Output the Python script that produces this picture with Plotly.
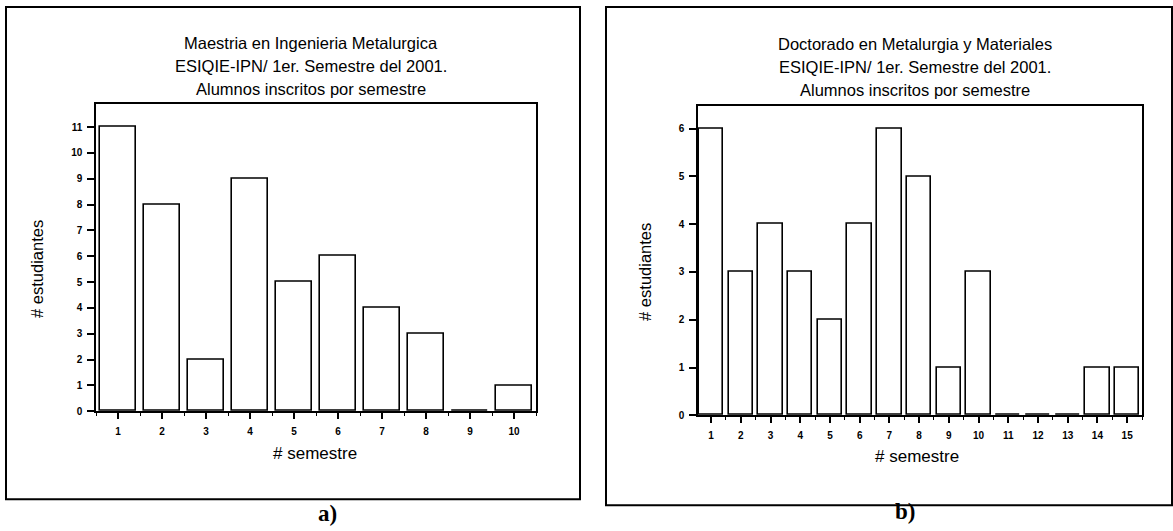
import plotly.graph_objects as go

# ---- data ----
sem_maestria = [1, 2, 3, 4, 5, 6, 7, 8, 9, 10]
alumnos_maestria = [11, 8, 2, 9, 5, 6, 4, 3, 0, 1]
sem_doctorado = [1, 2, 3, 4, 5, 6, 7, 8, 9, 10, 11, 12, 13, 14, 15]
alumnos_doctorado = [6, 3, 4, 3, 2, 4, 6, 5, 1, 3, 0, 0, 0, 1, 1]

titulo_a = ["Maestria en Ingenieria Metalurgica",
            "ESIQIE-IPN/ 1er. Semestre del 2001.",
            "Alumnos inscritos por semestre"]
titulo_b = ["Doctorado en Metalurgia y Materiales",
            "ESIQIE-IPN/ 1er. Semestre del 2001.",
            "Alumnos inscritos por semestre"]
ytitle = "# estudiantes"
xtitle = "# semestre"
yticks_a = list(range(0, 12))
yticks_b = list(range(0, 7))

W, H = 1173, 531
FONT = "Liberation Sans, Arial, sans-serif"


def px(x):
    return x / W


def py(y):
    return 1 - y / H


fig = go.Figure()
fig.add_trace(go.Bar(x=sem_maestria, y=alumnos_maestria, width=0.8,
                     marker=dict(color="white", line=dict(color="black", width=1.6)),
                     xaxis="x", yaxis="y", showlegend=False))
fig.add_trace(go.Bar(x=sem_doctorado, y=alumnos_doctorado, width=0.82,
                     marker=dict(color="white", line=dict(color="black", width=1.6)),
                     xaxis="x2", yaxis="y2", showlegend=False))

tickfont = dict(family=FONT, size=10, color="black")


def xaxis(domain, rng, vals, anchor):
    return dict(domain=domain, range=rng, anchor=anchor,
                tickmode="array", tickvals=vals,
                ticktext=[f"<b>{v}</b>" for v in vals],
                ticks="outside", ticklen=6, tickwidth=1.5, tickcolor="black",
                ticklabelstandoff=4,
                minor=dict(tick0=0.5, dtick=1, ticks="outside", ticklen=3,
                           tickwidth=1.2, tickcolor="black"),
                showline=True, linecolor="black", linewidth=1.5, mirror=True,
                showgrid=False, zeroline=False, tickfont=tickfont, fixedrange=True)


def yaxis(domain, rng, vals, anchor):
    return dict(domain=domain, range=rng, anchor=anchor,
                tickmode="array", tickvals=vals,
                ticktext=[f"<b>{v}</b>" for v in vals],
                ticks="outside", ticklen=7, tickwidth=1.5, tickcolor="black",
                ticklabelstandoff=3,
                showline=True, linecolor="black", linewidth=1.5, mirror=True,
                showgrid=False, zeroline=False, tickfont=tickfont, fixedrange=True)


fig.update_layout(
    width=W, height=H, margin=dict(l=0, r=0, t=0, b=0),
    paper_bgcolor="white", plot_bgcolor="white",
    bargap=0,
    xaxis=xaxis([px(96), px(536)], [0.5, 10.5], sem_maestria, "y"),
    yaxis=yaxis([py(416), py(105)], [0, 11.9], yticks_a, "x"),
    xaxis2=xaxis([px(698), px(1142)], [0.56, 15.5], sem_doctorado, "y2"),
    yaxis2=yaxis([py(420), py(107)], [0, 6.48], yticks_b, "x2"),
)

anns = []
for i, line in enumerate(titulo_a):
    anns.append(dict(x=px(311), y=py(43 + 23.5 * i), text=line))
for i, line in enumerate(titulo_b):
    anns.append(dict(x=px(915), y=py(44 + 23.5 * i), text=line))
for a in anns:
    a.update(xref="paper", yref="paper", showarrow=False, xanchor="center",
             yanchor="middle", font=dict(family=FONT, size=16.5, color="black"))

extra = [
    dict(x=px(37), y=py(272), text=ytitle, textangle=-90, font=dict(family=FONT, size=16.5, color="black")),
    dict(x=px(645), y=py(275), text=ytitle, textangle=-90, font=dict(family=FONT, size=16.5, color="black")),
    dict(x=px(315), y=py(459), text=xtitle, font=dict(family=FONT, size=17, color="black")),
    dict(x=px(917), y=py(462), text=xtitle, font=dict(family=FONT, size=17, color="black")),
    dict(x=px(327), y=py(519), text="<b>a)</b>",
         font=dict(family="Liberation Serif, Times New Roman, serif", size=23, color="black")),
    dict(x=px(905), y=py(517), text="<b>b)</b>",
         font=dict(family="Liberation Serif, Times New Roman, serif", size=23, color="black")),
]
for a in extra:
    a.update(xref="paper", yref="paper", showarrow=False, xanchor="center", yanchor="middle")
anns += extra
fig.update_layout(annotations=anns)

fig.update_layout(shapes=[
    dict(type="rect", xref="paper", yref="paper",
         x0=px(6), x1=px(580), y0=py(505), y1=py(7),
         line=dict(color="black", width=2)),
    dict(type="rect", xref="paper", yref="paper",
         x0=px(606), x1=px(1172), y0=py(511), y1=py(7),
         line=dict(color="black", width=2)),
])

fig.write_html("out.html", config={"displayModeBar": False},
               post_script="document.body.style.margin='0';document.body.style.overflow='hidden';")
